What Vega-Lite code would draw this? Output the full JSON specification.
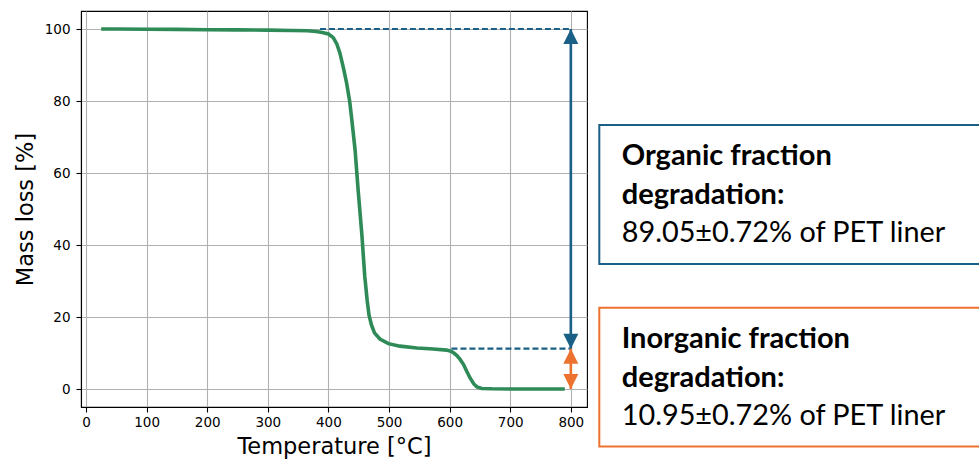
{
  "$schema": "https://vega.github.io/schema/vega-lite/v6.json",
  "width": 506,
  "height": 396,
  "autosize": "none",
  "padding": {"left": 81, "top": 11, "right": 392, "bottom": 52},
  "background": "white",
  "config": {
    "view": {"stroke": "black", "strokeWidth": 1.1},
    "axis": {
      "domainColor": "black", "domainWidth": 1.1,
      "tickColor": "black", "tickWidth": 1.1, "tickSize": 5,
      "labelFont": "DejaVu Sans", "labelFontSize": 13.5, "labelColor": "black",
      "titleFont": "DejaVu Sans", "titleFontSize": 22.5, "titleFontWeight": "normal", "titleColor": "black",
      "grid": true, "gridColor": "#b0b0b0", "gridWidth": 1.1
    }
  },
  "datasets": {
    "curve": [
      {"T": 25, "m": 100}, {"T": 50, "m": 100}, {"T": 100, "m": 99.95}, {"T": 150, "m": 99.9},
      {"T": 200, "m": 99.8}, {"T": 250, "m": 99.75}, {"T": 300, "m": 99.7}, {"T": 340, "m": 99.6},
      {"T": 365, "m": 99.5}, {"T": 380, "m": 99.3}, {"T": 390, "m": 99.0}, {"T": 400, "m": 98.6},
      {"T": 408, "m": 97.6}, {"T": 414, "m": 95.8}, {"T": 419, "m": 93.3}, {"T": 425, "m": 89.0},
      {"T": 430, "m": 85.0}, {"T": 435, "m": 80.0}, {"T": 438, "m": 75.7}, {"T": 444, "m": 66.4},
      {"T": 449, "m": 55.3}, {"T": 455, "m": 43.3}, {"T": 460, "m": 31.2}, {"T": 464, "m": 24.5},
      {"T": 467, "m": 20.5}, {"T": 471, "m": 17.8}, {"T": 476, "m": 15.6}, {"T": 485, "m": 13.9},
      {"T": 499, "m": 12.6}, {"T": 518, "m": 11.9}, {"T": 546, "m": 11.4}, {"T": 573, "m": 11.1},
      {"T": 595, "m": 10.8}, {"T": 602, "m": 10.5}, {"T": 607, "m": 10.0}, {"T": 612, "m": 9.3},
      {"T": 617, "m": 8.3}, {"T": 623, "m": 6.8}, {"T": 628, "m": 5.0}, {"T": 634, "m": 3.0},
      {"T": 640, "m": 1.4}, {"T": 645, "m": 0.6}, {"T": 653, "m": 0.15}, {"T": 670, "m": 0.05},
      {"T": 700, "m": 0.0}, {"T": 750, "m": 0.0}, {"T": 790, "m": 0.0}
    ],
    "guides": [
      {"T": 386, "T2": 800, "m": 100},
      {"T": 603, "T2": 800, "m": 11.2}
    ],
    "shafts": [
      {"T": 800, "m": 100, "m2": 11.2, "f": "organic"},
      {"T": 800, "m": 11.2, "m2": 0, "f": "inorganic"}
    ],
    "headsUp": [
      {"T": 800, "m": 100, "f": "organic"},
      {"T": 800, "m": 11.2, "f": "inorganic"}
    ],
    "headsDown": [
      {"T": 800, "m": 11.2, "f": "organic"},
      {"T": 800, "m": 0, "f": "inorganic"}
    ],
    "boxes": [
      {"T": 847, "T2": 1510, "m": 73.3, "m2": 34.7, "f": "organic"},
      {"T": 847, "T2": 1510, "m": 22.6, "m2": -16.0, "f": "inorganic"}
    ],
    "boldText": [
      {"T": 884, "m": 62.2, "label": "Organic fraction"},
      {"T": 884, "m": 51.4, "label": "degradation:"},
      {"T": 884, "m": 11.3, "label": "Inorganic fraction"},
      {"T": 884, "m": 0.64, "label": "degradation:"}
    ],
    "plainText": [
      {"T": 884, "m": 40.75, "label": "89.05±0.72% of PET liner"},
      {"T": 884, "m": -10.0, "label": "10.95±0.72% of PET liner"}
    ]
  },
  "layer": [
    {
      "data": {"name": "curve"},
      "mark": {"type": "line", "color": "#2e8b57", "strokeWidth": 3.6},
      "encoding": {
        "x": {"field": "T", "type": "quantitative",
              "scale": {"domain": [-8.3, 826.7], "nice": false, "zero": false},
              "axis": {"values": [0, 100, 200, 300, 400, 500, 600, 700, 800], "title": "Temperature [°C]",
                       "labelPadding": 3, "titleBaseline": "alphabetic", "titleY": 46}},
        "y": {"field": "m", "type": "quantitative",
              "scale": {"domain": [-5, 105], "nice": false, "zero": false},
              "axis": {"values": [0, 20, 40, 60, 80, 100], "title": "Mass loss [%]",
                       "labelPadding": 6, "titleBaseline": "alphabetic", "titleX": -49, "titleY": 198}}
      }
    },
    {
      "data": {"name": "guides"},
      "mark": {"type": "rule", "color": "#1a5f85", "strokeWidth": 2.2, "strokeDash": [6, 3]},
      "encoding": {
        "x": {"field": "T", "type": "quantitative", "scale": {"domain": [-8.3, 826.7], "nice": false, "zero": false}},
        "x2": {"field": "T2"},
        "y": {"field": "m", "type": "quantitative", "scale": {"domain": [-5, 105], "nice": false, "zero": false}}
      }
    },
    {
      "data": {"name": "shafts"},
      "mark": {"type": "rule", "strokeWidth": 2.6},
      "encoding": {
        "x": {"field": "T", "type": "quantitative", "scale": {"domain": [-8.3, 826.7], "nice": false, "zero": false}},
        "y": {"field": "m", "type": "quantitative", "scale": {"domain": [-5, 105], "nice": false, "zero": false}},
        "y2": {"field": "m2"},
        "color": {"field": "f", "type": "nominal", "scale": {"domain": ["organic", "inorganic"], "range": ["#1a5f85", "#ed7230"]}, "legend": null}
      }
    },
    {
      "data": {"name": "headsUp"},
      "mark": {"type": "point", "shape": "M0,0L1,2L-1,2Z", "filled": true, "size": 225, "opacity": 1, "strokeWidth": 0},
      "encoding": {
        "x": {"field": "T", "type": "quantitative", "scale": {"domain": [-8.3, 826.7], "nice": false, "zero": false}},
        "y": {"field": "m", "type": "quantitative", "scale": {"domain": [-5, 105], "nice": false, "zero": false}},
        "color": {"field": "f", "type": "nominal", "scale": {"domain": ["organic", "inorganic"], "range": ["#1a5f85", "#ed7230"]}, "legend": null}
      }
    },
    {
      "data": {"name": "headsDown"},
      "mark": {"type": "point", "shape": "M0,0L1,-2L-1,-2Z", "filled": true, "size": 225, "opacity": 1, "strokeWidth": 0},
      "encoding": {
        "x": {"field": "T", "type": "quantitative", "scale": {"domain": [-8.3, 826.7], "nice": false, "zero": false}},
        "y": {"field": "m", "type": "quantitative", "scale": {"domain": [-5, 105], "nice": false, "zero": false}},
        "color": {"field": "f", "type": "nominal", "scale": {"domain": ["organic", "inorganic"], "range": ["#1a5f85", "#ed7230"]}, "legend": null}
      }
    },
    {
      "data": {"name": "boxes"},
      "mark": {"type": "rect", "filled": false, "strokeWidth": 2, "clip": false},
      "encoding": {
        "x": {"field": "T", "type": "quantitative", "scale": {"domain": [-8.3, 826.7], "nice": false, "zero": false}},
        "x2": {"field": "T2"},
        "y": {"field": "m", "type": "quantitative", "scale": {"domain": [-5, 105], "nice": false, "zero": false}},
        "y2": {"field": "m2"},
        "stroke": {"field": "f", "type": "nominal", "scale": {"domain": ["organic", "inorganic"], "range": ["#1a5f85", "#ed7230"]}, "legend": null}
      }
    },
    {
      "data": {"name": "boldText"},
      "mark": {"type": "text", "font": "Lato", "fontSize": 29, "fontWeight": "bold", "align": "left", "baseline": "alphabetic", "color": "black", "clip": false},
      "encoding": {
        "x": {"field": "T", "type": "quantitative", "scale": {"domain": [-8.3, 826.7], "nice": false, "zero": false}},
        "y": {"field": "m", "type": "quantitative", "scale": {"domain": [-5, 105], "nice": false, "zero": false}},
        "text": {"field": "label"}
      }
    },
    {
      "data": {"name": "plainText"},
      "mark": {"type": "text", "font": "Lato", "fontSize": 28.8, "fontWeight": "normal", "align": "left", "baseline": "alphabetic", "color": "black", "clip": false},
      "encoding": {
        "x": {"field": "T", "type": "quantitative", "scale": {"domain": [-8.3, 826.7], "nice": false, "zero": false}},
        "y": {"field": "m", "type": "quantitative", "scale": {"domain": [-5, 105], "nice": false, "zero": false}},
        "text": {"field": "label"}
      }
    }
  ]
}
